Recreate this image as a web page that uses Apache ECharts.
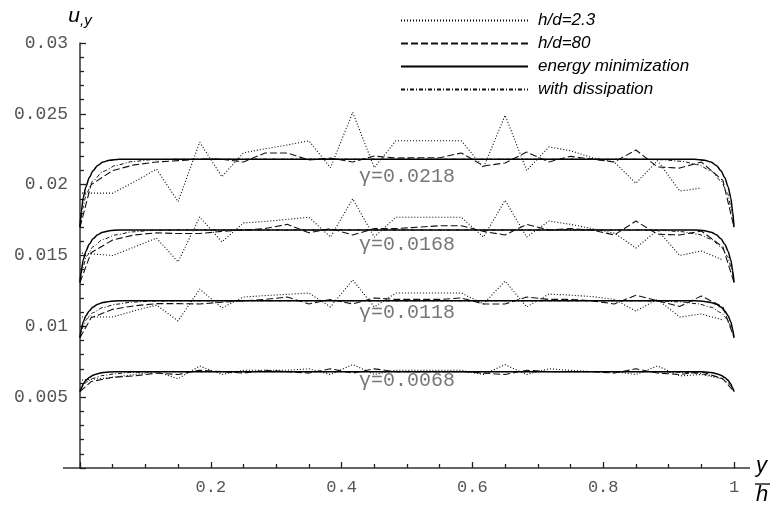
<!DOCTYPE html>
<html>
<head>
<meta charset="utf-8">
<script src="https://cdn.jsdelivr.net/npm/echarts@6/dist/echarts.min.js"></script>
<style>html,body{margin:0;padding:0;background:#fff}#c{width:771px;height:507px}</style>
</head>
<body>
<div id="c"></div>
<script>
// ---- data ----
const seriesNames = ['h/d=2.3', 'h/d=80', 'energy minimization', 'with dissipation'];
const gammaLabels = ['\u03b3=0.0218', '\u03b3=0.0168', '\u03b3=0.0118', '\u03b3=0.0068'];
const gammaLabelX = [0.5, 0.5, 0.5, 0.5];
const gammaLabelY = [0.02054, 0.01574, 0.01094, 0.00614];
const xTickLabels = ['0.2', '0.4', '0.6', '0.8', '1'];
const yTickLabels = ['0.005', '0.01', '0.015', '0.02', '0.025', '0.03'];

// h/d=2.3 (dotted)
const dotX = [0.003, 0.05, 0.083, 0.117, 0.15, 0.183, 0.217, 0.25, 0.283, 0.317, 0.35, 0.383, 0.417, 0.45, 0.483, 0.517, 0.55, 0.583, 0.617, 0.65, 0.683, 0.717, 0.75, 0.783, 0.817, 0.85, 0.883, 0.917, 0.95, 0.983];
const dot0218 = [0.0194, 0.0194, 0.0202, 0.0211, 0.0188, 0.0230, 0.02056, 0.02225, 0.02253, 0.0228, 0.0231, 0.0212, 0.0251, 0.0212, 0.0231, 0.0231, 0.0231, 0.0231, 0.0212, 0.0249, 0.0210, 0.02266, 0.0224, 0.0219, 0.0216, 0.0201, 0.0217, 0.01955, 0.01976];
const dot0168 = [0.01517, 0.0150, 0.0156, 0.01623, 0.01455, 0.01772, 0.01596, 0.0173, 0.0174, 0.01755, 0.0177, 0.0163, 0.0190, 0.0163, 0.0177, 0.0177, 0.0177, 0.0177, 0.0163, 0.0189, 0.0163, 0.01743, 0.0172, 0.0169, 0.01658, 0.01553, 0.0168, 0.0150, 0.01532, 0.01468];
const dot0118 = [0.01066, 0.01066, 0.0111, 0.0115, 0.01038, 0.01263, 0.0113, 0.01207, 0.01217, 0.01226, 0.01235, 0.01137, 0.01327, 0.01137, 0.01235, 0.01235, 0.01235, 0.01235, 0.01158, 0.0132, 0.01137, 0.01228, 0.0122, 0.0121, 0.0119, 0.01108, 0.0119, 0.01066, 0.01087, 0.01045];
const dot0068 = [0.0062, 0.0064, 0.0066, 0.0068, 0.0063, 0.0072, 0.0066, 0.0069, 0.0069, 0.0069, 0.0070, 0.0066, 0.0073, 0.0066, 0.0069, 0.0069, 0.0069, 0.0069, 0.0066, 0.0073, 0.0066, 0.0070, 0.0069, 0.0068, 0.0068, 0.0066, 0.0072, 0.0065, 0.0066, 0.0063];

// h/d=80 (dashed)
const dashX = [0, 0.017, 0.05, 0.083, 0.117, 0.15, 0.183, 0.217, 0.25, 0.283, 0.317, 0.35, 0.383, 0.417, 0.45, 0.483, 0.517, 0.55, 0.583, 0.617, 0.65, 0.683, 0.717, 0.75, 0.783, 0.817, 0.85, 0.883, 0.917, 0.95, 0.983, 1];
const dash0218 = [0.0170, 0.0200, 0.0210, 0.0214, 0.0216, 0.0217, 0.0218, 0.0218, 0.0216, 0.02224, 0.02224, 0.02174, 0.02188, 0.0216, 0.02202, 0.02188, 0.0219, 0.0219, 0.02224, 0.02132, 0.02153, 0.0223, 0.0216, 0.0220, 0.0218, 0.0216, 0.02245, 0.02125, 0.02117, 0.0216, 0.0203, 0.0170];
const dash0168 = [0.0131, 0.0152, 0.0161, 0.01645, 0.0166, 0.01655, 0.01655, 0.0167, 0.0168, 0.0169, 0.0172, 0.0166, 0.0169, 0.01645, 0.0169, 0.0169, 0.0170, 0.0171, 0.0171, 0.0167, 0.01645, 0.0172, 0.0168, 0.0169, 0.0168, 0.01645, 0.01743, 0.0165, 0.01645, 0.01673, 0.0156, 0.0131];
const dash0118 = [0.0092, 0.0106, 0.0112, 0.01145, 0.0116, 0.0116, 0.01158, 0.0117, 0.0118, 0.0119, 0.01207, 0.01158, 0.0119, 0.01158, 0.0120, 0.0119, 0.0119, 0.0119, 0.0120, 0.01158, 0.01158, 0.01207, 0.0119, 0.0119, 0.0118, 0.01158, 0.0122, 0.0118, 0.0114, 0.01214, 0.01137, 0.0092];
const dash0068 = [0.0054, 0.0061, 0.0064, 0.0065, 0.0067, 0.0066, 0.0069, 0.0068, 0.0067, 0.0069, 0.0068, 0.0067, 0.0070, 0.0067, 0.0070, 0.0068, 0.0068, 0.0068, 0.0068, 0.0067, 0.0066, 0.0069, 0.0068, 0.0068, 0.0068, 0.0067, 0.0070, 0.0067, 0.0066, 0.0068, 0.0063, 0.0054];

// energy minimization (solid)
const enX = [0, 0.002, 0.005, 0.009, 0.014, 0.02, 0.027, 0.035, 0.045, 0.06, 0.94, 0.955, 0.965, 0.973, 0.98, 0.986, 0.991, 0.995, 0.998, 1];
const en0218 = [0.0170, 0.0181, 0.0191, 0.01984, 0.02049, 0.02099, 0.02136, 0.0216, 0.02173, 0.0218, 0.0218, 0.02173, 0.0216, 0.02136, 0.02099, 0.02049, 0.01984, 0.0191, 0.0181, 0.0170];
const en0168 = [0.0131, 0.01394, 0.0147, 0.01529, 0.01579, 0.01618, 0.01646, 0.01665, 0.01675, 0.0168, 0.0168, 0.01675, 0.01665, 0.01646, 0.01618, 0.01579, 0.01529, 0.0147, 0.01394, 0.0131];
const en0118 = [0.0092, 0.00979, 0.01033, 0.01074, 0.01109, 0.01136, 0.01156, 0.01169, 0.01176, 0.0118, 0.0118, 0.01176, 0.01169, 0.01156, 0.01136, 0.01109, 0.01074, 0.01033, 0.00979, 0.0092];
const en0068 = [0.0054, 0.00564, 0.00595, 0.00619, 0.00639, 0.00655, 0.00666, 0.00674, 0.00678, 0.0068, 0.0068, 0.00678, 0.00674, 0.00666, 0.00655, 0.00639, 0.00619, 0.00595, 0.00564, 0.0054];

// with dissipation (dash-dot)
const disX = [0, 0.004, 0.01, 0.02, 0.035, 0.055, 0.08, 0.11, 0.15, 0.85, 0.89, 0.92, 0.945, 0.965, 0.98, 0.99, 0.996, 1];
const dis0218 = [0.0170, 0.01831, 0.0194, 0.02027, 0.02093, 0.02136, 0.02163, 0.02176, 0.0218, 0.0218, 0.02176, 0.02165, 0.02141, 0.02097, 0.02027, 0.0194, 0.01831, 0.0170];
const dis0168 = [0.0131, 0.01411, 0.01495, 0.01562, 0.01613, 0.01646, 0.01667, 0.01677, 0.0168, 0.0168, 0.01677, 0.01668, 0.0165, 0.01616, 0.01562, 0.01495, 0.01411, 0.0131];
const dis0118 = [0.0092, 0.00991, 0.0105, 0.01097, 0.01133, 0.01156, 0.01171, 0.01178, 0.0118, 0.0118, 0.01178, 0.01172, 0.01159, 0.01135, 0.01097, 0.0105, 0.00991, 0.0092];
const dis0068 = [0.0054, 0.00578, 0.00607, 0.00633, 0.00653, 0.00666, 0.00675, 0.00679, 0.0068, 0.0068, 0.00679, 0.00675, 0.00668, 0.00654, 0.00633, 0.00607, 0.00578, 0.0054];

// ---- build chart ----
function zip(xs, ys) { const out = []; for (let i = 0; i < ys.length; i++) out.push([xs[i], ys[i]]); return out; }

const styles = {
  'h/d=2.3': { type: [1, 2], width: 1.1, color: '#000' },
  'h/d=80': { type: [7, 3], width: 1.1, color: '#111' },
  'energy minimization': { type: 'solid', width: 1.5, color: '#000' },
  'with dissipation': { type: [4, 2, 1, 2], width: 1, color: '#111' }
};
const groups = [
  [dot0218, dash0218, en0218, dis0218],
  [dot0168, dash0168, en0168, dis0168],
  [dot0118, dash0118, en0118, dis0118],
  [dot0068, dash0068, en0068, dis0068]
];
const xsFor = [dotX, dashX, enX, disX];
const series = [];
const z = [2, 3, 5, 4];
for (let s = 0; s < 4; s++) {
  for (let g = 0; g < 4; g++) {
    const nm = seriesNames[s];
    series.push({
      name: nm, type: 'line', symbol: 'none', showSymbol: false, z: z[s],
      smooth: s >= 2 ? 0.25 : false, smoothMonotone: 'x',
      data: zip(xsFor[s], groups[g][s]),
      lineStyle: { type: styles[nm].type, width: styles[nm].width, color: styles[nm].color },
      itemStyle: { color: styles[nm].color },
      emphasis: { disabled: true }, silent: true
    });
  }
}
series.push({
  name: 'gamma', type: 'scatter', symbolSize: 0, silent: true,
  data: gammaLabels.map((t, i) => ({ value: [gammaLabelX[i], gammaLabelY[i]], name: t })),
  label: { show: true, position: 'inside', formatter: p => p.name, fontFamily: 'Liberation Mono', fontSize: 20, color: '#555' }
});

const tickStyle = { color: '#222', width: 1.3 };
const chart = echarts.init(document.getElementById('c'), null, { renderer: 'canvas' });
chart.setOption({
  animation: false,
  backgroundColor: '#fff',
  grid: { left: 80, right: 37, top: 43, bottom: 39 },
  legend: {
    data: seriesNames, orient: 'vertical', left: 400, top: 12, padding: 0,
    itemWidth: 127, itemHeight: 14, itemGap: 6, selectedMode: false,
    itemStyle: { opacity: 0 },
    textStyle: { fontFamily: 'Liberation Sans', fontStyle: 'italic', fontSize: 17, color: '#000', padding: [0, 0, 0, 5] }
  },
  xAxis: {
    type: 'value', min: 0, max: 1, interval: 0.2,
    axisLine: { show: true, lineStyle: { color: '#333', width: 1.5 } },
    axisTick: { show: true, inside: true, length: 6, lineStyle: tickStyle },
    minorTick: { show: true, splitNumber: 4, length: 4, lineStyle: tickStyle },
    splitLine: { show: false },
    axisLabel: { margin: 11, fontFamily: 'Liberation Mono', fontSize: 17, color: '#555',
      formatter: v => { const i = Math.round(v / 0.2) - 1; return i >= 0 ? xTickLabels[i] : ''; } }
  },
  yAxis: {
    type: 'value', min: 0, max: 0.03, interval: 0.005,
    name: '{u|u}{s|,y}', nameLocation: 'end', nameGap: 15,
    nameTextStyle: { rich: {
      u: { fontFamily: 'Liberation Sans', fontStyle: 'italic', fontSize: 21, color: '#000' },
      s: { fontFamily: 'Liberation Sans', fontStyle: 'italic', fontSize: 15, color: '#000', verticalAlign: 'bottom', padding: [8, 0, 0, 0] }
    } },
    axisLine: { show: true, lineStyle: { color: '#333', width: 1.5 } },
    axisTick: { show: true, inside: true, length: 6, lineStyle: tickStyle },
    minorTick: { show: true, splitNumber: 5, length: 4, lineStyle: tickStyle },
    splitLine: { show: false },
    axisLabel: { margin: 12, fontFamily: 'Liberation Mono', fontSize: 18, color: '#555',
      formatter: v => { const i = Math.round(v / 0.005) - 1; return i >= 0 ? yTickLabels[i] : ''; } }
  },
  graphic: [
    { type: 'line', shape: { x1: 63, y1: 468, x2: 80, y2: 468 }, style: { stroke: '#333', lineWidth: 1.5 }, silent: true },
    { type: 'line', shape: { x1: 734, y1: 468, x2: 750, y2: 468 }, style: { stroke: '#333', lineWidth: 1.5 }, silent: true },
    { type: 'text', left: 756, top: 455, style: { text: 'y', font: 'italic 22px "Liberation Sans"', fill: '#000' }, silent: true },
    { type: 'line', shape: { x1: 755, y1: 484, x2: 770, y2: 484 }, style: { stroke: '#000', lineWidth: 1.3 }, silent: true },
    { type: 'text', left: 756, top: 484, style: { text: 'h', font: 'italic 22px "Liberation Sans"', fill: '#000' }, silent: true }
  ],
  series: series
});
</script>
</body>
</html>
